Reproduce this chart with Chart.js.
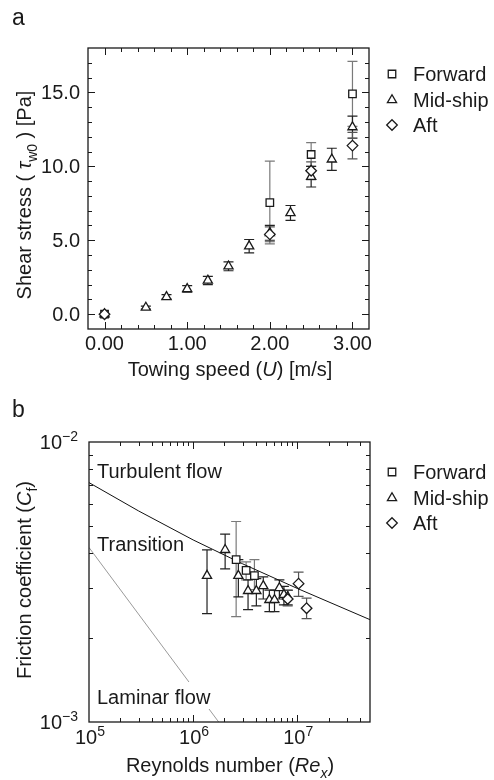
<!DOCTYPE html>
<html>
<head>
<meta charset="utf-8">
<script src="https://cdn.jsdelivr.net/npm/chart.js@4.4.1/dist/chart.umd.min.js"></script>
<style>
  body { margin: 0; background: #fff; }
  .panel { position: absolute; left: 0; width: 494px; height: 390px; }
</style>
</head>
<body>
<div class="panel" style="top:0"><canvas id="chartA"></canvas></div>
<div class="panel" style="top:390px"><canvas id="chartB"></canvas></div>
<script>
// panel a: shear stress vs towing speed
const speedFwd = [0, 2.0, 2.5, 3.0];
const tauFwd = [0, 7.55, 10.8, 14.9];
const tauFwdErr = [0, 2.8, 0.8, 2.2];
const speedMid = [0, 0.5, 0.75, 1.0, 1.25, 1.5, 1.75, 2.0, 2.25, 2.5, 2.75, 3.0];
const tauMid = [0, 0.45, 1.17, 1.71, 2.28, 3.24, 4.6, 5.5, 6.85, 9.3, 10.47, 12.65];
const tauMidErr = [0, 0.1, 0.15, 0.22, 0.28, 0.3, 0.45, 0.5, 0.5, 0.7, 0.75, 0.75];
const speedAft = [0, 2.0, 2.5, 3.0];
const tauAft = [0, 5.4, 9.7, 11.4];
const tauAftErr = [0, 0.5, 0.6, 0.9];
const xTicksA = [0, 1, 2, 3];
const yTicksA = [0, 5, 10, 15];

// panel b: friction coefficient vs Reynolds number
const reFwd = [2.59e6, 3.23e6, 3.88e6];
const cfFwd = [0.0038, 0.00348, 0.00333];
const cfFwdHi = [0.0052, 0.00373, 0.0038];
const cfFwdLo = [0.00238, 0.00322, 0.00297];
const reMid = [1.36e6, 2.03e6, 2.72e6, 3.37e6, 4.05e6, 4.72e6, 5.4e6, 6.05e6, 6.74e6, 7.45e6, 8.1e6];
const cfMid = [0.00333, 0.00412, 0.00333, 0.00294, 0.00294, 0.00306, 0.00273, 0.00273, 0.00301, 0.00285, 0.0028];
const cfMidHi = [0.00412, 0.00469, 0.0038, 0.00322, 0.00325, 0.0033, 0.00296, 0.00296, 0.00322, 0.00305, 0.00295];
const cfMidLo = [0.00244, 0.00352, 0.0028, 0.00252, 0.0026, 0.00275, 0.00248, 0.00248, 0.00275, 0.00262, 0.00262];
const reAft = [8.1e6, 1.03e7, 1.23e7];
const cfAft = [0.00275, 0.00312, 0.00255];
const cfAftHi = [0.00296, 0.00343, 0.00277];
const cfAftLo = [0.0026, 0.00281, 0.00234];
const reTurb = [1e5, 3e5, 1e6, 3e6, 1e7, 5e7];
const cfTurb = [0.00716, 0.00567, 0.00447, 0.00367, 0.003, 0.00232];
const reLam = [1e5, 1.76e6];
const cfLam = [0.0042, 0.001];
const xTicksB = [1e5, 1e6, 1e7];
const xTickExpB = ['5', '6', '7'];
const yTicksB = [1e-3, 1e-2];
const yTickExpB = ['\u22123', '\u22122'];

const FONT = '"Liberation Sans", Arial, Helvetica, sans-serif';
const INK = '#1a1a1a';

function setFont(ctx, size, italic) {
  ctx.font = (italic ? 'italic ' : '') + size + 'px ' + FONT;
}
function partSize(p, size) {
  return (p.sub || p.sup) ? Math.round(size * 0.68) : size;
}
function richWidth(ctx, parts, size) {
  let w = 0;
  parts.forEach(p => { setFont(ctx, partSize(p, size), p.it); w += ctx.measureText(p.t).width; });
  return w;
}
// draws text made of pieces (italic / sub / sup), y is the baseline
function drawRich(ctx, parts, x, y, size, align) {
  const w = richWidth(ctx, parts, size);
  let cx = align === 'center' ? x - w / 2 : align === 'right' ? x - w : x;
  ctx.textAlign = 'left';
  ctx.textBaseline = 'alphabetic';
  parts.forEach(p => {
    setFont(ctx, partSize(p, size), p.it);
    const dy = p.sub ? size * 0.28 : p.sup ? -size * 0.42 : 0;
    ctx.fillText(p.t, cx, y + dy);
    cx += ctx.measureText(p.t).width;
  });
}

function marker(ctx, style, x, y, r) {
  ctx.beginPath();
  if (style === 'rect') {
    const s = r * Math.SQRT1_2;
    ctx.rect(x - s, y - s, 2 * s, 2 * s);
  } else if (style === 'triangle') {
    for (let k = 0; k < 3; k++) {
      const ang = k * 2 * Math.PI / 3;
      const px = x + Math.sin(ang) * r, py = y - Math.cos(ang) * r;
      if (k) ctx.lineTo(px, py); else ctx.moveTo(px, py);
    }
    ctx.closePath();
  } else {
    ctx.moveTo(x, y - r); ctx.lineTo(x + r, y); ctx.lineTo(x, y + r); ctx.lineTo(x - r, y);
    ctx.closePath();
  }
  ctx.fillStyle = '#fff';
  ctx.fill();
  ctx.stroke();
}

function drawLegend(ctx, x, rows) {
  const items = [['rect', 'Forward'], ['triangle', 'Mid-ship'], ['rectRot', 'Aft']];
  ctx.save();
  ctx.strokeStyle = INK;
  ctx.lineWidth = 1.3;
  items.forEach((it, i) => {
    marker(ctx, it[0], x, rows[i], 5.3);
    ctx.fillStyle = INK;
    drawRich(ctx, [{ t: it[1] }], x + 21, rows[i] + 7, 20, 'left');
  });
  ctx.restore();
}

// frame with inward ticks on all four sides
function drawFrame(chart, xMajor, xMinor, yMajor, yMinor) {
  const { ctx, chartArea: a, scales } = chart;
  ctx.save();
  ctx.strokeStyle = INK;
  ctx.lineWidth = 1;
  ctx.beginPath();
  const xt = (vals, len) => vals.forEach(v => {
    const px = Math.round(scales.x.getPixelForValue(v)) + 0.5;
    if (px <= a.left + 1 || px >= a.right - 1) return;
    ctx.moveTo(px, a.bottom); ctx.lineTo(px, a.bottom - len);
    ctx.moveTo(px, a.top); ctx.lineTo(px, a.top + len);
  });
  const yt = (vals, len) => vals.forEach(v => {
    const py = Math.round(scales.y.getPixelForValue(v)) + 0.5;
    if (py <= a.top + 1 || py >= a.bottom - 1) return;
    ctx.moveTo(a.left, py); ctx.lineTo(a.left + len, py);
    ctx.moveTo(a.right, py); ctx.lineTo(a.right - len, py);
  });
  xt(xMinor, 4); xt(xMajor, 7);
  yt(yMinor, 4); yt(yMajor, 7);
  ctx.stroke();
  ctx.lineWidth = 1.3;
  ctx.strokeRect(a.left, a.top, a.right - a.left, a.bottom - a.top);
  ctx.restore();
}

const errorBars = {
  id: 'errorBars',
  beforeDatasetsDraw(chart) {
    const { ctx } = chart;
    const ys = chart.scales.y;
    chart.data.datasets.forEach((ds, i) => {
      if (!ds.errColor) return;
      const meta = chart.getDatasetMeta(i);
      ctx.save();
      ctx.strokeStyle = ds.errColor;
      ctx.lineWidth = 1.2;
      ds.data.forEach((d, j) => {
        if (d.yMin === d.yMax) return;
        const px = meta.data[j].x;
        const p1 = ys.getPixelForValue(d.yMax), p2 = ys.getPixelForValue(d.yMin);
        ctx.beginPath();
        ctx.moveTo(px, p1); ctx.lineTo(px, p2);
        ctx.moveTo(px - 5, p1); ctx.lineTo(px + 5, p1);
        ctx.moveTo(px - 5, p2); ctx.lineTo(px + 5, p2);
        ctx.stroke();
      });
      ctx.restore();
    });
  }
};

function pts(xs, ys, lo, hi) {
  return xs.map((x, i) => ({ x: x, y: ys[i], yMin: lo[i], yMax: hi[i] }));
}
function markerSet(label, data, style, errColor, order) {
  return {
    label: label, data: data, pointStyle: style, pointRadius: 5.3,
    pointBorderWidth: 1.3, borderColor: INK, backgroundColor: '#fff',
    errColor: errColor, order: order
  };
}

function baseOptions(pad, xs, ys) {
  return {
    responsive: true,
    maintainAspectRatio: false,
    animation: false,
    events: [],
    layout: { padding: pad },
    plugins: { legend: { display: false }, tooltip: { enabled: false } },
    scales: {
      x: Object.assign({ display: false }, xs),
      y: Object.assign({ display: false }, ys)
    }
  };
}

// ---------- panel a ----------
const minorXA = [], minorYA = [];
for (let v = -0.2; v <= 3.21; v += 0.2) minorXA.push(Math.round(v * 10) / 10);
for (let v = -1; v <= 18; v++) minorYA.push(v);

const decorA = {
  id: 'decorA',
  afterDraw(chart) {
    const { ctx, scales: { x, y } } = chart;
    drawFrame(chart, xTicksA, minorXA, yTicksA, minorYA);
    ctx.save();
    ctx.fillStyle = INK;
    xTicksA.forEach(v => drawRich(ctx, [{ t: v.toFixed(2) }], x.getPixelForValue(v), 350, 20, 'center'));
    yTicksA.forEach(v => drawRich(ctx, [{ t: v.toFixed(1) }], 80, y.getPixelForValue(v) + 7, 20, 'right'));
    drawRich(ctx, [{ t: 'Towing speed (' }, { t: 'U', it: true }, { t: ') [m/s]' }], 230, 376, 20, 'center');
    drawRich(ctx, [{ t: 'a' }], 12, 25, 23, 'left');
    ctx.translate(31, 195);
    ctx.rotate(-Math.PI / 2);
    drawRich(ctx, [{ t: 'Shear stress ( ' }, { t: '\u03c4', it: true }, { t: 'w0', sub: true }, { t: ' ) [Pa]' }], 0, 0, 20, 'center');
    ctx.restore();
    drawLegend(ctx, 392, [74, 100, 125]);
  }
};

new Chart(document.getElementById('chartA'), {
  type: 'scatter',
  data: {
    datasets: [
      markerSet('Forward', pts(speedFwd, tauFwd, tauFwd.map((v, i) => v - tauFwdErr[i]), tauFwd.map((v, i) => v + tauFwdErr[i])), 'rect', '#7a7a7a', 2),
      markerSet('Mid-ship', pts(speedMid, tauMid, tauMid.map((v, i) => v - tauMidErr[i]), tauMid.map((v, i) => v + tauMidErr[i])), 'triangle', '#222', 1),
      markerSet('Aft', pts(speedAft, tauAft, tauAft.map((v, i) => v - tauAftErr[i]), tauAft.map((v, i) => v + tauAftErr[i])), 'rectRot', '#555', 0)
    ]
  },
  options: baseOptions({ left: 88, top: 48, right: 125, bottom: 61 },
    { type: 'linear', min: -0.2, max: 3.2 },
    { type: 'linear', min: -1, max: 18 }),
  plugins: [errorBars, decorA]
});

// ---------- panel b ----------
const minorXB = [], minorYB = [];
[1e5, 1e6, 1e7].forEach(d => { for (let m = 2; m <= 9; m++) if (d * m <= 5e7) minorXB.push(d * m); });
for (let m = 2; m <= 9; m++) minorYB.push(m * 1e-3);

const decorB = {
  id: 'decorB',
  afterDatasetsDraw(chart) {
    const { ctx } = chart;
    ctx.save();
    ctx.fillStyle = '#fff';
    ctx.fillRect(95, 292, 121, 27);
    ctx.fillStyle = INK;
    drawRich(ctx, [{ t: 'Turbulent flow' }], 97, 88, 20, 'left');
    drawRich(ctx, [{ t: 'Transition' }], 97, 161, 20, 'left');
    drawRich(ctx, [{ t: 'Laminar flow' }], 97, 314, 20, 'left');
    ctx.restore();
  },
  afterDraw(chart) {
    const { ctx, scales: { x, y } } = chart;
    drawFrame(chart, xTicksB, minorXB, yTicksB, minorYB);
    ctx.save();
    ctx.fillStyle = INK;
    xTicksB.forEach((v, i) => drawRich(ctx, [{ t: '10' }, { t: xTickExpB[i], sup: true }], x.getPixelForValue(v) + 1, 354, 20, 'center'));
    yTicksB.forEach((v, i) => drawRich(ctx, [{ t: '10' }, { t: yTickExpB[i], sup: true }], 78, y.getPixelForValue(v) + 7, 20, 'right'));
    drawRich(ctx, [{ t: 'Reynolds number (' }, { t: 'Re', it: true }, { t: 'x', it: true, sub: true }, { t: ')' }], 230, 382, 20, 'center');
    drawRich(ctx, [{ t: 'b' }], 12, 27, 23, 'left');
    ctx.translate(31, 190);
    ctx.rotate(-Math.PI / 2);
    drawRich(ctx, [{ t: 'Friction coefficient (' }, { t: 'C', it: true }, { t: 'f', sub: true }, { t: ')' }], 0, 0, 20, 'center');
    ctx.restore();
    drawLegend(ctx, 392, [82, 108, 133]);
  }
};

new Chart(document.getElementById('chartB'), {
  type: 'scatter',
  data: {
    datasets: [
      markerSet('Forward', pts(reFwd, cfFwd, cfFwdLo, cfFwdHi), 'rect', '#7a7a7a', 2),
      markerSet('Mid-ship', pts(reMid, cfMid, cfMidLo, cfMidHi), 'triangle', '#222', 1),
      markerSet('Aft', pts(reAft, cfAft, cfAftLo, cfAftHi), 'rectRot', '#555', 0),
      { label: 'Turbulent flow', data: reTurb.map((v, i) => ({ x: v, y: cfTurb[i] })), showLine: true,
        borderColor: '#111', borderWidth: 1, pointRadius: 0, order: 5 },
      { label: 'Laminar flow', data: reLam.map((v, i) => ({ x: v, y: cfLam[i] })), showLine: true,
        borderColor: '#9a9a9a', borderWidth: 1, pointRadius: 0, order: 6 }
    ]
  },
  options: baseOptions({ left: 89, top: 52, right: 124, bottom: 58 },
    { type: 'logarithmic', min: 1e5, max: 5e7 },
    { type: 'logarithmic', min: 1e-3, max: 1e-2 }),
  plugins: [errorBars, decorB]
});
</script>
</body>
</html>
